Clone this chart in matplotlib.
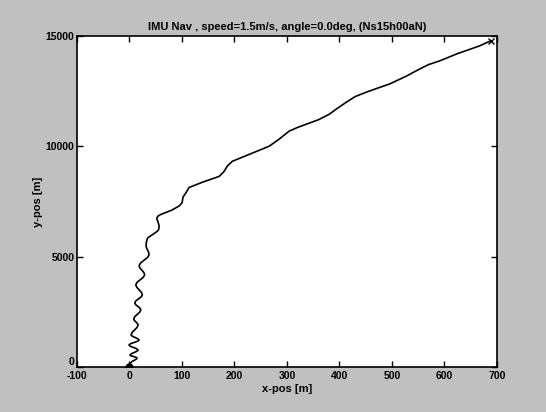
import matplotlib
matplotlib.use("Agg")
import matplotlib.pyplot as plt

# trajectory (x-pos, y-pos in metres)
x_pos = [0, 1, 2, 3.9, 8.2, 12.6, 14.5, 12.5, 7.8, 3, 1, 3.3, 8.7, 14.1, 16.4,
         13.8, 7.7, 1.6, -1, 1.9, 8.7, 15.4, 18.3, 16, 10.7, 5.3, 3, 5, 9.7,
         14.4, 16.4, 15.1, 12.2, 9.3, 8, 10, 14.8, 19.6, 21.6, 19.9, 15.8,
         11.7, 10, 12.2, 17.3, 22.4, 24.6, 22.7, 18.3, 13.9, 12, 14.6, 20.5,
         26.4, 29, 27.4, 23.7, 19.9, 18.3, 21.2, 27.9, 34.5, 37.4, 36.5, 34.6,
         32.5, 31.7, 32, 33.6, 34.5, 44, 53, 55.7, 56.5, 54, 51.9, 54, 59.4,
         80, 95, 100.4, 102, 108, 113.7, 140, 171, 180, 186, 195.8, 230, 266,
         275, 285, 304, 320, 337, 360, 381, 395, 413.5, 430, 451.9, 475, 495.4,
         510, 528, 553, 570, 591, 623.5, 645, 667, 688]
y_pos = [0, 90, 180, 237, 295, 352, 409, 443, 477, 511, 545, 602, 659, 716,
         773, 830, 887, 943, 1000, 1057, 1114, 1170, 1227, 1284, 1341, 1398,
         1455, 1569, 1682, 1796, 1909, 1977, 2045, 2112, 2180, 2283, 2386,
         2488, 2591, 2671, 2750, 2830, 2909, 3000, 3091, 3182, 3273, 3387,
         3500, 3614, 3727, 3841, 3955, 4068, 4182, 4284, 4387, 4489, 4591,
         4716, 4841, 4966, 5091, 5193, 5296, 5398, 5500, 5640, 5773, 5850,
         6000, 6150, 6227, 6400, 6600, 6727, 6830, 6909, 7100, 7300, 7455,
         7700, 7909, 8136, 8380, 8636, 8850, 9091, 9318, 9650, 10000, 10150,
         10318, 10682, 10850, 11000, 11200, 11455, 11700, 12000, 12250, 12455,
         12650, 12818, 12980, 13182, 13500, 13700, 13864, 14182, 14360, 14545,
         14773]

x_ticks = [-100, 0, 100, 200, 300, 400, 500, 600, 700]
y_ticks = [0, 5000, 10000, 15000]

plt.rcParams['font.family'] = ['Liberation Sans', 'DejaVu Sans']
plt.rcParams['axes.unicode_minus'] = False

fig = plt.figure(figsize=(5.46, 4.12), dpi=100, facecolor='#c0c0c0')
ax = fig.add_axes([0.141, 0.109, 0.769, 0.804])
ax.set_facecolor('white')

ax.plot(x_pos, y_pos, color='black', linewidth=1.2, solid_joinstyle='round')
ax.plot(x_pos[0], y_pos[0], marker='o', color='black', markersize=5)
ax.plot(x_pos[-1], y_pos[-1], marker='x', color='black', markersize=5, mew=1)

ax.set_xlim(-100, 700)
ax.set_ylim(0, 15000)
ax.set_xticks(x_ticks)
ax.set_yticks(y_ticks)
ax.tick_params(direction='in', top=True, right=True, length=4, width=1,
               labelsize=7.5, pad=2)
ax.tick_params(axis='x', pad=3)
for lab in ax.get_xticklabels() + ax.get_yticklabels():
    lab.set_fontweight('bold')
# the "0" sits just above the "-100" in the corner
ax.get_yticklabels()[0].set_va('bottom')
for s in ax.spines.values():
    s.set_linewidth(1.2)

ax.set_title('IMU Nav , speed=1.5m/s, angle=0.0deg, (Ns15h00aN)',
             fontsize=8, fontweight='bold', pad=4)
ax.set_xlabel('x-pos [m]', fontsize=8, fontweight='bold', labelpad=2)
ax.set_ylabel('y-pos [m]', fontsize=8, fontweight='bold', labelpad=2)

fig.savefig('out.png', dpi=100, facecolor=fig.get_facecolor())
